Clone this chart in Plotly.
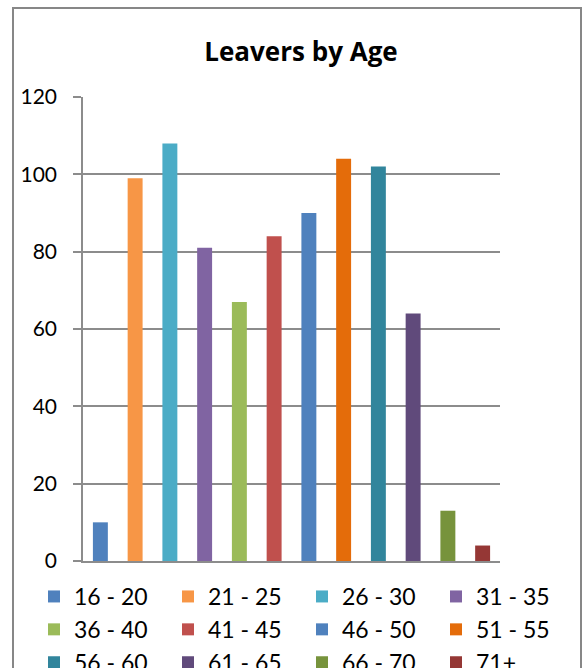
import plotly.graph_objects as go

# Leavers counts per age band
age_bands = ["16 - 20", "21 - 25", "26 - 30", "31 - 35", "36 - 40", "41 - 45",
             "46 - 50", "51 - 55", "56 - 60", "61 - 65", "66 - 70", "71+"]
leavers = [10, 99, 108, 81, 67, 84, 90, 104, 102, 64, 13, 4]
band_colors = ["#4F81BD", "#F79646", "#4BACC6", "#8064A2", "#9BBB59", "#C0504D",
               "#4F81BD", "#E46C0A", "#31859C", "#604A7B", "#77933C", "#953735"]
y_ticks = [0, 20, 40, 60, 80, 100, 120]

W, H = 583, 668
L, R, T, B = 83, 83, 97, 107  # plot area: x 83..500, y 97..561
N_COLS = 4  # legend laid out as four columns, one legend object per column

legend_ids = ["legend", "legend2", "legend3", "legend4"]

fig = go.Figure()
for i, (band, val, col) in enumerate(zip(age_bands, leavers, band_colors)):
    fig.add_trace(go.Bar(
        x=[i + 0.5], y=[val], name=band, width=0.43,
        marker=dict(color=col, line=dict(width=0)),
        hoverinfo="name+y",
        legend=legend_ids[i % N_COLS],
    ))

grid = "#8c8c8c"
plot_w = W - L - R
plot_h = H - T - B


def px_x(p):
    return (p - L) / plot_w


def px_y(p):
    return (H - B - p) / plot_h


legend_style = dict(orientation="v", xanchor="left", y=px_y(575), yanchor="top",
                    traceorder="normal", font=dict(size=23),
                    bgcolor="rgba(0,0,0,0)", itemclick=False, tracegroupgap=0)
col_left = [34, 168, 302, 436]

layout_legends = {
    lid: dict(legend_style, x=px_x(col_left[k])) for k, lid in enumerate(legend_ids)
}

fig.update_layout(
    width=W, height=H,
    margin=dict(l=L, r=R, t=T, b=B, autoexpand=False),
    paper_bgcolor="white", plot_bgcolor="white",
    barmode="overlay",
    font=dict(family="Lato, Carlito, sans-serif", color="black"),
    title=dict(text="<b>Leavers by Age</b>", x=301 / W, xref="container", xanchor="center",
               y=1 - 52 / H, yref="container", yanchor="middle",
               font=dict(size=26, family="Open Sans, sans-serif", color="black")),
    xaxis=dict(range=[0, 12], showticklabels=False, showgrid=False, zeroline=False,
               showline=True, linecolor=grid, linewidth=1.5, ticks="", fixedrange=True),
    yaxis=dict(range=[0, 120], tickvals=y_ticks, showgrid=True, gridcolor=grid, gridwidth=1.5,
               zeroline=False, showline=True, linecolor=grid, linewidth=1.5,
               ticks="outside", ticklen=8, tickcolor=grid, tickwidth=1.5,
               tickfont=dict(size=21), ticklabelstandoff=12),
    showlegend=True,
    shapes=[dict(type="rect", xref="paper", yref="paper",
                 x0=px_x(13), x1=px_x(581), y0=px_y(8), y1=px_y(680),
                 line=dict(color="#878787", width=2), fillcolor="rgba(0,0,0,0)", layer="below")],
    **layout_legends,
)

fig.write_html("out.html")
